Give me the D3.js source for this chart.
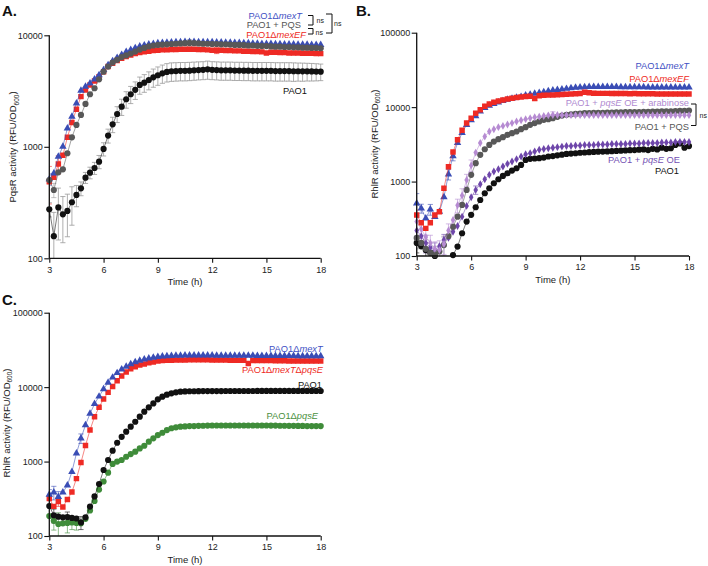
<!DOCTYPE html>
<html><head><meta charset="utf-8">
<script src="https://cdn.jsdelivr.net/npm/d3@7"></script>
<style>
body{margin:0;background:#fff}
svg{display:block}
text{font-family:"Liberation Sans",Arial,Helvetica,sans-serif}
.tick text{font-family:"Liberation Sans Narrow","Liberation Sans",Arial,sans-serif;font-size:9px;fill:#222}
</style></head><body>
<svg id="c" width="708" height="566"></svg>
<script>
// ---------- shared axis data ----------
const time = [3,3.25,3.5,3.75,4,4.25,4.5,4.75,5,5.25,5.5,5.75,6,6.25,6.5,6.75,7,7.25,7.5,7.75,8,8.25,8.5,8.75,9,9.25,9.5,9.75,10,10.25,10.5,10.75,11,11.25,11.5,11.75,12,12.25,12.5,12.75,13,13.25,13.5,13.75,14,14.25,14.5,14.75,15,15.25,15.5,15.75,16,16.25,16.5,16.75,17,17.25,17.5,17.75,18];
const xTicks = [3,6,9,12,15,18];
const yTicksA = [100,1000,10000];
const yTicksBC = [100,1000,10000,100000];

// ---------- Panel A: PqsR activity ----------
const A_mexT = [512,578,817,1005, 1467,1865,2457,3190, 3470,3715,4030,4400, 4890,5420,5890,6300, 6700,7100,7400,7700, 7950,8150,8300,8400, 8500,8550,8600,8650, 8700,8700,8750,8750, 8750,8700,8700,8700, 8700,8650,8650,8600, 8600,8550,8550,8500, 8500,8450,8450,8400, 8400,8400,8350,8350, 8300,8300,8300,8250, 8250,8250,8200,8200, 8200];
const A_PQS = [504,410,590,628, 875,1217,1570,1930, 2423,2960,3350,4030, 4720,5240,5690,6030, 6380,6600,6850,7150, 7450,7700,7950,8100, 8200,8250,8300,8350, 8400,8450,8500,8550, 8500,8450,8400,8400, 8350,8350,8300,8300, 8250,8200,8200,8150, 8100,8100,8050,8000, 8000,7950,7900,7900, 7850,7850,7800,7800, 7750,7750,7700,7700, 7650];
const A_mexEF = [487,532,701,839, 1217,1648,2170,2818, 3234,3590,3895,4260, 4720,5240,5620,5950, 6220,6450,6670,6850, 7000,7100,7200,7300, 7350,7400,7400,7450, 7450,7500,7500,7500, 7500,7450,7450,7400, 7350,7300,7350,7300, 7300,7250,7250,7200, 7200,7150,7150,7100, 6950,7050,7050,7000, 7000,6950,6950,6950, 6900,6900,6900,6850, 6850];
const A_PAO1 = [275,158,286,248, 266,318,370,424, 529,586,645,736, 957,1260,1590,1970, 2290,2670,2960,3240, 3590,3760,3970,4200, 4380,4560,4690,4760, 4780,4800,4800,4820, 4850,4880,4900,4950, 4900,4880,4850,4850, 4850,4830,4830,4820, 4820,4800,4800,4800, 4800,4800,4780,4780, 4780,4780,4760,4760, 4750,4750,4740,4730, 4720];
const A_PAO1_sd = [40,100,140,110, 110,120,80,60, 60,70,80,100, 130,180,250,320, 380,450,520,580, 630,680,730,780, 820,850,880,900, 900,900,900,900, 900,900,900,920, 900,900,900,900, 900,900,900,900, 900,900,900,900, 900,900,900,900, 900,900,900,880, 880,860,850,830, 800];
const A_mexT_err = [[3,60]];
const A_PQS_err = [[3.25,60],[10.75,600]];
const A_mexEF_err = [[3,180],[3.5,130],[12.25,450]];

// ---------- Panel B: RhlR activity ----------
const B_mexT = [509,436,321,423, 337,394,620,1250, 2200,3300,4500,5800, 6700,7600,8800,9800, 10500,11100,11600,12100, 12600,13000,13400,13800, 14400,14800,15200,15600, 16000,16400,16800,17100, 17400,17700,18000,18300, 18500,18600,18700,18700, 18700,18700,18700,18700, 18700,18600,18600,18600, 18600,18600,18600,18500, 18500,18500,18500,18500, 18500,18400,18400,18400, 18400];
const B_mexEF = [355,280,235,280, 355,394,811,1585, 2500,3640,4900,6100, 7100,8300,9200,10300, 11000,11600,12100,12500, 12900,13200,13500,13700, 13900,14000,13100,14200, 14400,14500,14600,14700, 14800,14900,15000,15100, 15200,15800,15600,15400, 15300,15300,15300,15200, 15200,15200,15200,15100, 15200,15100,15100,15100, 15100,15000,15000,15000, 15000,15000,15000,15000, 15000];
const B_OEara = [290,230,180,150, 125,120,145,220, 305,480,650,1050, 1650,2450,3300,4030, 4710,5050,5380,5600, 5850,6100,6400,6650, 6900,7100,7300,7450, 7600,7750,7850,7850, 7800,7800,7800,7800, 7800,7800,7800,7800, 7800,7800,7800,7800, 7800,7800,7800,7800, 7800,7800,7800,7800, 7800,7800,7800,7800, 7800,7800,7800,7800, 7800];
const B_PQS = [175,150,125,110, 105,115,140,185, 248,338,485,773, 1230,1766,2285,2720, 3110,3450,3715,3950, 4250,4470,4710,5060, 5380,5780,6100,6420, 6760,6900,7100,7400, 7700,7900,8000,8100, 8200,8300,8300,8350, 8400,8400,8450,8450, 8500,8500,8550,8550, 8600,8600,8650,8650, 8700,8700,8750,8750, 8800,8850,8900,8950, 9000];
const B_OE = [220,185,150,130, 120,135,165,175, 212,253,338,471, 615,773,921,1075, 1230,1365,1467,1592, 1730,1858,2000,2170, 2330,2410,2540,2680, 2740,2800,2850,2900, 2950,3000,3000,3050, 3050,3100,3100,3100, 3150,3150,3150,3200, 3200,3200,3200,3250, 3250,3250,3300,3300, 3300,3300,3350,3350, 3350,3400,3400,3400, 3400];
const B_PAO1 = [150,135,120,111, 100,92,88,92, 103,134,202,290, 357,452,566,697, 813,950,1075,1190, 1294,1405,1510,1675, 1955,2018,2040,2060, 2100,2170,2200,2250, 2300,2350,2380,2400, 2440,2460,2480,2500, 2520,2530,2540,2560, 2580,2600,2620,2640, 2650,2680,2700,2650, 2750,2700,2850,2750, 2800,3100,3250,2850, 3000];
const B_mexT_err = [[3,180],[3.25,60],[3.75,70],[4.75,200],[5,300]];
const B_mexEF_err = [[3,60],[9.5,800],[12.25,900]];
const B_OEara_err = [[3,60],[3.25,60],[3.5,50],[3.75,40],[4,30],[4.25,40],[4.5,40],[4.75,50],[5.25,100],[5.5,150],[5.75,200],[6,300],[10.5,800]];
const B_PQS_err = [[3,50],[3.5,40],[4,30],[4.5,40],[12.25,500]];
const B_OE_err = [[3.5,40],[4,30],[4.5,30],[6.25,100]];
const B_PAO1_err = [[3,40],[3.5,30]];

// ---------- Panel C: RhlR activity ----------
const C_mexT = [360,385,335,385, 480,730,1290,2050, 3100,4400,5950,7500, 9400,11500,13500,15500, 17300,18900,20400,21700, 22700,23600,24400,25000, 25500,25900,26200,26400, 26500,26600,26700,26700, 26700,26700,26700,26700, 26700,26600,26600,26600, 26600,26500,26500,26500, 26500,26500,26400,26400, 26400,26400,26300,26300, 26300,26300,26300,26200, 26200,26200,26200,26200, 26200];
const C_mexTpqsE = [320,250,290,245, 310,390,590,970, 1640,2650,4000,5350, 6950,8500,10200,12200, 14100,16000,17600,18800, 19800,20500,21300,21800, 22400,22700,22900,23000, 23100,23200,23200,23300, 23300,23300,23300,23300, 23200,23200,23100,23100, 23000,23000,22900,22900, 20800,22800,22800,22700, 22700,22700,22600,22600, 22600,22500,22500,22500, 22500,22400,22400,22400, 22400];
const C_PAO1 = [253,190,182,178, 180,175,172,152, 178,248,340,500, 770,1050,1400,1790, 2150,2520,2940,3430, 4010,4680,5350,6050, 6860,7440,7920,8250, 8510,8690,8750,8800, 8800,8820,8840,8850, 8850,8860,8860,8870, 8870,8880,8880,8880, 8880,8880,8890,8890, 8890,8890,8900,8900, 8900,8900,8900,8900, 8900,8900,8900,8900, 8880];
const C_pqsE = [185,160,145,148, 150,152,150,148, 170,220,295,420, 540,710,930,1000, 1050,1160,1260,1360, 1500,1630,1850,2050, 2270,2440,2650,2800, 2880,2940,2970,3000, 3000,3020,3030,3040, 3050,3050,3050,3050, 3050,3050,3050,3050, 3050,3050,3050,3050, 3050,3040,3040,3030, 3030,3020,3020,3010, 3010,3000,3000,3000, 3000];
const C_mexT_err = [[3,60],[3.25,80],[3.5,60],[4.75,300]];
const C_mexTpqsE_err = [[3,50],[3.5,40]];
const C_PAO1_err = [[3.25,40],[4,30],[4.75,30]];
const C_pqsE_err = [[3.25,40],[3.5,60],[4,40],[4.25,30],[4.5,30]];

// ---------- label texts ([text, italic]) ----------
const L_mexT = [['PAO1Δ',0],['mexT',1]];
const L_PQS = [['PAO1 + PQS',0]];
const L_mexEF = [['PAO1Δ',0],['mexEF',1]];
const L_PAO1 = [['PAO1',0]];
const L_OEara = [['PAO1 + ',0],['pqsE',1],[' OE + arabinose',0]];
const L_OE = [['PAO1 + ',0],['pqsE',1],[' OE',0]];
const L_mexTpqsE = [['PAO1Δ',0],['mexT',1],['Δ',0],['pqsE',1]];
const L_pqsE = [['PAO1Δ',0],['pqsE',1]];

// ---------- styles ----------
const COL = {blue:'#3a4db5', red:'#ee2a24', grey:'#585858', black:'#111111', lpur:'#b68bd2', pur:'#6e46aa', green:'#3f8c3a'};
const TXT = {blue:'#3f51c4', red:'#ee2a24', grey:'#555555', black:'#111111', lpur:'#b08ad0', pur:'#7451b3', green:'#4a9040'};
const SHAPE = {
  tri:[d3.symbolTriangle,24], sq:[d3.symbolSquare,30], circ:[d3.symbolCircle,30], dia:[d3.symbolDiamond,18]
};

const panels = [
 {id:'A', letter:'A.', lx:2, ly:16, x0:49.3, x1:320.7, yTop:35.3, yBot:258.3, yDomain:[100,10000], yTicks:yTicksA,
  yTitle:'PqsR activity (RFU/OD', titleX:16, titleY:147,
  series:[
   {v:A_PAO1, sd:A_PAO1_sd, c:'black', s:'circ', ec:'#9a9a9a'},
   {v:A_mexEF, err:A_mexEF_err, c:'red', s:'sq'},
   {v:A_mexT, err:A_mexT_err, c:'blue', s:'tri'},
   {v:A_PQS, err:A_PQS_err, c:'grey', s:'circ', ec:'#9a9a9a'}],
  labels:[
   {t:L_mexT, c:'blue', x:302, y:19.3},
   {t:L_PQS, c:'grey', x:301, y:28.3},
   {t:L_mexEF, c:'red', x:306, y:37.7},
   {t:L_PAO1, c:'black', x:307, y:94}]},
 {id:'B', letter:'B.', lx:356, ly:16, x0:416.7, x1:689, yTop:32.7, yBot:256, yDomain:[100,100000], yTicks:yTicksBC,
  yTitle:'RhlR activity (RFU/OD', titleX:377.5, titleY:144,
  series:[
   {v:B_PAO1, err:B_PAO1_err, c:'black', s:'circ'},
   {v:B_OE, err:B_OE_err, c:'pur', s:'dia'},
   {v:B_PQS, err:B_PQS_err, c:'grey', s:'circ', ec:'#8a8a8a'},
   {v:B_OEara, err:B_OEara_err, c:'lpur', s:'dia'},
   {v:B_mexT, err:B_mexT_err, c:'blue', s:'tri'},
   {v:B_mexEF, err:B_mexEF_err, c:'red', s:'sq'}],
  labels:[
   {t:L_mexT, c:'blue', x:689, y:69},
   {t:L_mexEF, c:'red', x:689, y:81.7},
   {t:L_OEara, c:'lpur', x:689, y:105.8},
   {t:L_PQS, c:'grey', x:689, y:129.5},
   {t:L_OE, c:'pur', x:680, y:163},
   {t:L_PAO1, c:'black', x:679, y:174.3}]},
 {id:'C', letter:'C.', lx:2, ly:305, x0:49.3, x1:320.7, yTop:312.7, yBot:536, yDomain:[100,100000], yTicks:yTicksBC,
  yTitle:'RhlR activity (RFU/OD', titleX:9.5, titleY:423,
  series:[
   {v:C_pqsE, err:C_pqsE_err, c:'green', s:'circ'},
   {v:C_PAO1, err:C_PAO1_err, c:'black', s:'circ'},
   {v:C_mexTpqsE, err:C_mexTpqsE_err, c:'red', s:'sq'},
   {v:C_mexT, err:C_mexT_err, c:'blue', s:'tri'}],
  labels:[
   {t:L_mexT, c:'blue', x:322.7, y:351.7},
   {t:L_mexTpqsE, c:'red', x:323, y:372.5},
   {t:L_PAO1, c:'black', x:322, y:387.7},
   {t:L_pqsE, c:'green', x:318, y:419}]}
];

const svg = d3.select('#c');
const defs = svg.append('defs');

function addText(g, parts, x, y, color, size) {
  const t = g.append('text').attr('x', x).attr('y', y).attr('text-anchor','end')
    .attr('font-size', size).attr('fill', color);
  parts.forEach(p => t.append('tspan').text(p[0]).attr('font-style', p[1] ? 'italic' : 'normal'));
  return t;
}

panels.forEach(p => {
  const x = d3.scaleLinear().domain([3,18]).range([p.x0, p.x1]);
  const y = d3.scaleLog().domain(p.yDomain).range([p.yBot, p.yTop]);
  const g = svg.append('g');

  defs.append('clipPath').attr('id','lc'+p.id).append('rect')
    .attr('x', p.x0).attr('y', p.yTop - 10).attr('width', p.x1 - p.x0 + 8).attr('height', p.yBot - p.yTop + 10);
  defs.append('clipPath').attr('id','mc'+p.id).append('rect')
    .attr('x', p.x0 - 6).attr('y', p.yTop - 10).attr('width', p.x1 - p.x0 + 14).attr('height', p.yBot - p.yTop + 14);

  // error bars
  const eg = g.append('g').attr('clip-path', `url(#lc${p.id})`);
  p.series.forEach(s => {
    let errs = [];
    if (s.sd) errs = time.map((t,i) => [t, s.sd[i]]);
    else if (s.err) errs = s.err;
    const ec = s.ec || COL[s.c];
    errs.forEach(([t, e]) => {
      const i = time.indexOf(t);
      const v = s.v[i];
      if (!e) return;
      const hi = y(v + e), lo = y(Math.max(v - e, 50));
      const cx = x(t);
      eg.append('path').attr('d', `M${cx},${hi}V${lo}M${cx-2.6},${hi}H${cx+2.6}M${cx-2.6},${lo}H${cx+2.6}`)
        .attr('stroke', ec).attr('stroke-width', 0.8).attr('fill','none').attr('opacity', s.sd ? 1 : 0.75);
    });
  });

  // lines and markers
  p.series.forEach(s => {
    const pts = time.map((t,i) => ({t, v:s.v[i]}));
    g.append('path').datum(pts).attr('clip-path', `url(#lc${p.id})`)
      .attr('d', d3.line().x(d => x(d.t)).y(d => y(Math.max(d.v, 50))))
      .attr('fill','none').attr('stroke', COL[s.c]).attr('stroke-width', 0.7).attr('opacity', 0.8);
    const sym = d3.symbol(SHAPE[s.s][0], SHAPE[s.s][1]);
    g.append('g').attr('clip-path', `url(#mc${p.id})`).selectAll('path')
      .data(pts.filter(d => d.v >= 100)).join('path')
      .attr('transform', d => `translate(${x(d.t)},${y(d.v)})`)
      .attr('d', sym()).attr('fill', COL[s.c]);
  });

  // axes
  const xa = svg.append('g').attr('transform', `translate(0,${p.yBot})`)
    .call(d3.axisBottom(x).tickValues(xTicks).tickSize(4.5).tickSizeOuter(0).tickPadding(3.5).tickFormat(d3.format('d')));
  const ya = svg.append('g').attr('transform', `translate(${p.x0},0)`)
    .call(d3.axisLeft(y).tickValues(p.yTicks).tickSize(5).tickSizeOuter(0).tickPadding(1.5).tickFormat(d3.format('d')));
  [xa, ya].forEach(a => {
    a.select('.domain').attr('stroke','#111').attr('stroke-width',1.3);
    a.selectAll('.tick line').attr('stroke','#111').attr('stroke-width',1.1);
  });
  xa.select('.domain').attr('d', `M${p.x0},0H${p.x1}`);
  ya.select('.domain').attr('d', `M0,${p.yTop}V${p.yBot}`);

  // axis titles
  svg.append('text').attr('x', (p.x0 + p.x1)/2).attr('y', p.yBot + 26.5).attr('text-anchor','middle')
    .attr('font-size', 9.5).attr('fill','#222').text('Time (h)');
  const yt = svg.append('text').attr('transform', `translate(${p.titleX},${p.titleY}) rotate(-90)`)
    .attr('text-anchor','middle').attr('font-size', 9.5).attr('fill','#222');
  yt.append('tspan').text(p.yTitle);
  yt.append('tspan').text('600').attr('font-size', 6.5).attr('dy', 2.5);
  yt.append('tspan').text(')').attr('dy', -2.5);

  // panel letter
  svg.append('text').attr('x', p.lx).attr('y', p.ly).attr('font-size', 15).attr('font-weight','bold').attr('fill','#111').text(p.letter);

  // series labels
  p.labels.forEach(l => addText(svg, l.t, l.x, l.y, TXT[l.c], 9.3));
});

// significance brackets
function bracket(xr, y1, y2, w) {
  return `M${xr-w},${y1}H${xr}V${y2}H${xr-w}`;
}
const br = svg.append('g').attr('fill','none').attr('stroke','#111').attr('stroke-width',1);
br.append('path').attr('d', bracket(313, 15.5, 25, 5));
br.append('path').attr('d', bracket(313, 28.5, 34, 5));
br.append('path').attr('d', bracket(332, 14, 33, 6));
br.append('path').attr('d', bracket(696, 104, 125.5, 5));
const ns = [[316.5,22.5],[315.5,34.5],[334,25.5],[699.5,117.5]];
ns.forEach(([a,b]) => svg.append('text').attr('x',a).attr('y',b).attr('font-size',7).attr('fill','#222').text('ns'));
</script>
</body></html>
